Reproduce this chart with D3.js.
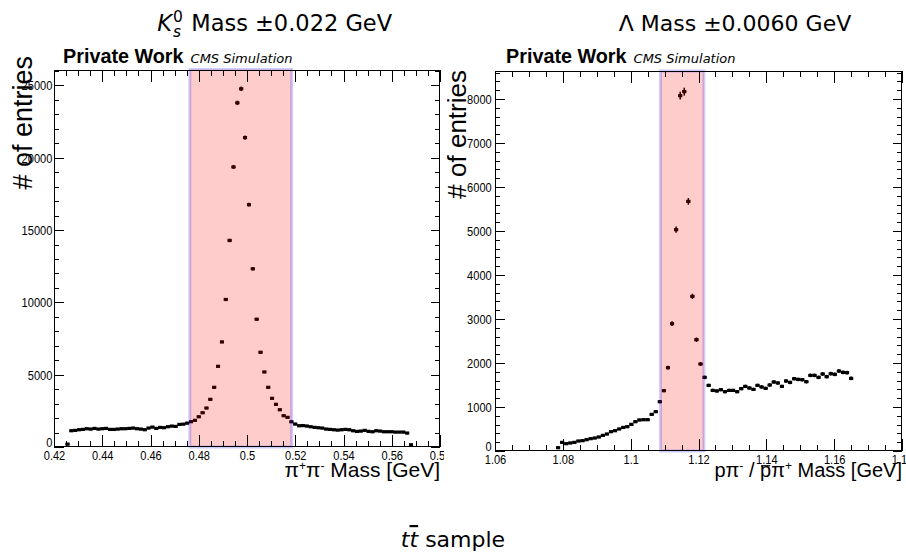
<!DOCTYPE html>
<html><head><meta charset="utf-8">
<script src="https://cdn.jsdelivr.net/npm/d3@7"></script>
<style>body{margin:0;background:#fff} svg{display:block}</style>
</head><body>
<svg id="c" width="906" height="556"></svg>
<script>
// ---------------- data ----------------
const k0Range = [0.42, 0.58];
const k0Counts = [
  0,0,0,200,1124,1147,1193,1216,1262,1240,
  1286,1240,1262,1286,1216,1216,1240,1262,1262,1286,
  1309,1262,1240,1193,1309,1378,1286,1355,1332,1401,
  1447,1424,1560,1580,1650,1750,1842,2091,2368,2694,
  3296,4127,5581,7264,10200,14280,19362,23794,24764,21391,
  16752,12320,8836,6551,5187,4127,3366,2950,2576,2161,
  2050,1745,1586,1468,1480,1450,1399,1357,1330,1309,
  1240,1219,1191,1170,1191,1219,1190,1122,1080,1101,
  1150,1080,1053,1122,1101,1053,1053,1053,1032,1032,
  1032,963,150,0,0,0,0,0,0,0
];
const k0Band = [0.4763, 0.5185];
const k0XTicks = [0.42,0.44,0.46,0.48,0.50,0.52,0.54,0.56,0.58];
const k0YTicks = [0,5000,10000,15000,20000,25000];
const k0YMax = 26100;

const lamRange = [1.06, 1.18];
const lamCounts = [
  0,0,0,0,0,0,0,0,0,0,
  0,0,0,0,0,75,196,166,182,196,
  227,234,257,280,295,318,355,386,439,461,
  500,536,552,605,666,705,711,711,832,893,
  1120,1371,1893,2893,5030,8076,8167,5673,3514,2530,
  1977,1673,1491,1377,1364,1393,1348,1377,1377,1348,
  1416,1468,1432,1400,1491,1455,1423,1500,1568,1546,
  1468,1591,1559,1643,1627,1620,1575,1718,1718,1673,
  1750,1689,1757,1741,1818,1787,1780,1650,0,0,
  0,0,0,0,0,0,0,0,0,0
];
const lamBand = [1.1088, 1.1216];
const lamXTicks = [1.06,1.08,1.10,1.12,1.14,1.16,1.18];
const lamYTicks = [0,1000,2000,3000,4000,5000,6000,7000,8000];
const lamYMax = 8636;

// ---------------- drawing ----------------
const svg = d3.select("#c");
const defs = svg.append("defs");
defs.append("clipPath").attr("id","clipL").append("rect").attr("x",0).attr("y",0).attr("width",444).attr("height",556);
defs.append("clipPath").attr("id","clipR").append("rect").attr("x",447).attr("y",0).attr("width",459).attr("height",556);

const fmt = d => String(+d.toFixed(2));
const TICKFONT = "'Liberation Sans', Arial, Helvetica, sans-serif";

function drawPanel(cfg){
  const g = svg.append("g").attr("clip-path", `url(#${cfg.clip})`);
  const x = d3.scaleLinear().domain(cfg.range).range([cfg.x0, cfg.x1]);
  const y = d3.scaleLinear().domain([0, cfg.yMax]).range([cfg.yB, cfg.yT]);
  const n = cfg.counts.length;
  const bw = (cfg.range[1]-cfg.range[0])/n;
  const pts = cfg.counts.map((c,i)=>({lo:cfg.range[0]+i*bw, hi:cfg.range[0]+(i+1)*bw, mid:cfg.range[0]+(i+0.5)*bw, c:c})).filter(d=>d.c>0);

  const dg = g.append("g");
  dg.selectAll("line.h").data(pts).join("line").attr("class","h")
    .attr("x1",d=>x(d.lo)).attr("x2",d=>x(d.hi)).attr("y1",d=>y(d.c)).attr("y2",d=>y(d.c))
    .attr("stroke","#000").attr("stroke-width",2.2);
  dg.selectAll("line.v").data(pts).join("line").attr("class","v")
    .attr("x1",d=>x(d.mid)).attr("x2",d=>x(d.mid))
    .attr("y1",d=>y(d.c-Math.sqrt(d.c))).attr("y2",d=>y(d.c+Math.sqrt(d.c)))
    .attr("stroke","#000").attr("stroke-width",1.5);
  dg.selectAll("rect").data(pts).join("rect")
    .attr("x",d=>x(d.mid)-2).attr("y",d=>y(d.c)-1.6).attr("width",4).attr("height",3.2)
    .attr("fill","#000");

  g.append("rect").attr("x",x(cfg.band[0])).attr("y",cfg.yT).attr("width",x(cfg.band[1])-x(cfg.band[0])).attr("height",cfg.yB-cfg.yT)
    .attr("fill","rgba(255,0,0,0.2)").attr("stroke","rgba(0,0,255,0.2)").attr("stroke-width",3);

  const xMinor = d3.range(Math.round((cfg.range[1]-cfg.range[0])/cfg.xMinorStep)+1).map(i=>cfg.range[0]+i*cfg.xMinorStep);
  const yMinor = d3.range(Math.floor(cfg.yMax/cfg.yMinorStep)+1).map(i=>i*cfg.yMinorStep);

  const ax = g.append("g").attr("shape-rendering","crispEdges");
  ax.append("g").attr("transform",`translate(0,${cfg.yB})`).call(d3.axisBottom(x).tickValues(xMinor).tickSize(-6).tickFormat(""));
  const bx = ax.append("g").attr("transform",`translate(0,${cfg.yB})`).call(d3.axisBottom(x).tickValues(cfg.xTicks).tickSize(-12).tickPadding(3).tickFormat(fmt));
  ax.append("g").attr("transform",`translate(0,${cfg.yT})`).call(d3.axisTop(x).tickValues(xMinor).tickSize(-6).tickFormat(""));
  ax.append("g").attr("transform",`translate(0,${cfg.yT})`).call(d3.axisTop(x).tickValues(cfg.xTicks).tickSize(-12).tickFormat(""));
  ax.append("g").attr("transform",`translate(${cfg.x0},0)`).call(d3.axisLeft(y).tickValues(yMinor).tickSize(-5).tickFormat(""));
  const ly = ax.append("g").attr("transform",`translate(${cfg.x0},0)`).call(d3.axisLeft(y).tickValues(cfg.yTicks).tickSize(-9.5).tickPadding(cfg.yPad).tickFormat(d3.format("d")));
  ax.append("g").attr("transform",`translate(${cfg.x1},0)`).call(d3.axisRight(y).tickValues(yMinor).tickSize(-5).tickFormat(""));
  ax.append("g").attr("transform",`translate(${cfg.x1},0)`).call(d3.axisRight(y).tickValues(cfg.yTicks).tickSize(-9.5).tickFormat(""));
  ax.selectAll(".domain").remove();
  ax.selectAll(".tick line").attr("stroke","#000");
  ax.selectAll("text").attr("font-family",TICKFONT).attr("font-size",13.5).attr("fill","#000");
  bx.selectAll("text").attr("transform","scale(0.82,1)");
  ly.selectAll("text").attr("transform","scale(0.82,1)");
  ly.selectAll(".tick").filter(d=>d===0).select("text").attr("dy","-0.05em");

  g.append("rect").attr("x",cfg.x0+0.5).attr("y",cfg.yT+0.5).attr("width",cfg.x1-cfg.x0-1).attr("height",cfg.yB-cfg.yT-1)
    .attr("fill","none").attr("stroke","#000").attr("stroke-width",1).attr("shape-rendering","crispEdges");

  const xt = g.append("text").attr("x",cfg.x1).attr("y",477).attr("text-anchor","end")
    .attr("font-family",TICKFONT).attr("font-size",cfg.xTitleSize).attr("fill","#000");
  cfg.xTitle(xt, g);
  g.append("text").attr("transform",`translate(${cfg.yTitleX},${cfg.yTitleTop}) rotate(-90)`).attr("text-anchor","end")
    .attr("font-family",TICKFONT).attr("font-size",cfg.yTitleSize).attr("fill","#000").text("# of entries");

  const lab = g.append("text").attr("x",cfg.labX).attr("y",63).attr("fill","#000");
  lab.append("tspan").attr("font-family",TICKFONT).attr("font-weight","bold").attr("font-size",19.8).text("Private Work");
  lab.append("tspan").attr("font-family","'DejaVu Sans', sans-serif").attr("font-style","italic").attr("font-size",13).attr("dx",7).text("CMS Simulation");
}

drawPanel({clip:"clipL", range:k0Range, counts:k0Counts, band:k0Band, xTicks:k0XTicks, yTicks:k0YTicks, yMax:k0YMax,
  x0:54, x1:440, yT:69.5, yB:447, xMinorStep:0.005, yMinorStep:1000, yPad:2, yTitleX:32, yTitleTop:56, yTitleSize:27, labX:63, xTitleSize:21,
  xTitle: t => {
    t.append("tspan").text("π");
    t.append("tspan").attr("font-size",12).attr("baseline-shift","55%").text("+");
    t.append("tspan").text("π");
    t.append("tspan").attr("font-size",12).attr("baseline-shift","55%").text("-");
    t.append("tspan").text(" Mass [GeV]");
  }});
drawPanel({clip:"clipR", range:lamRange, counts:lamCounts, band:lamBand, xTicks:lamXTicks, yTicks:lamYTicks, yMax:lamYMax,
  x0:495, x1:902, yT:71, yB:451, xMinorStep:0.005, yMinorStep:200, yPad:4, yTitleX:466, yTitleTop:70, yTitleSize:26, labX:506, xTitleSize:20,
  xTitle: (t, g) => {
    t.append("tspan").text("pπ");
    t.append("tspan").attr("font-size",12).attr("baseline-shift","55%").text("-");
    t.append("tspan").text(" / ");
    t.append("tspan").text("p");
    t.append("tspan").text("π");
    t.append("tspan").attr("font-size",12).attr("baseline-shift","55%").text("+");
    t.append("tspan").text(" Mass [GeV]");
    // bar over the anti-proton p
    const e = t.node().getExtentOfChar(6);
    const yb = +t.attr("y") - 20*0.56;
    g.append("line").attr("x1",e.x+1).attr("x2",e.x+e.width-1).attr("y1",yb).attr("y2",yb)
      .attr("stroke","#000").attr("stroke-width",1.3);
  }});

// matplotlib titles
const MPL = "'DejaVu Sans', sans-serif";
function mathTitle(cx, build){
  const g = svg.append("g");
  build(g);
  const bb = g.node().getBBox();
  g.attr("transform",`translate(${cx - bb.x - bb.width/2},0)`);
}
mathTitle(275, g => {
  const K = g.append("text").attr("x",0).attr("y",31).attr("font-family",MPL).attr("font-size",22.5).attr("font-style","italic").text("K");
  const wK = K.node().getComputedTextLength();
  g.append("text").attr("x",wK+1).attr("y",21.5).attr("font-family",MPL).attr("font-size",15.5).text("0");
  g.append("text").attr("x",wK+1).attr("y",37).attr("font-family",MPL).attr("font-size",15.5).attr("font-style","italic").text("s");
  g.append("text").attr("x",wK+12).attr("y",31).attr("font-family",MPL).attr("font-size",22.5).attr("xml:space","preserve").text(" Mass ±0.022 GeV");
});
mathTitle(735, g => {
  g.append("text").attr("x",0).attr("y",31).attr("font-family",MPL).attr("font-size",22).text("Λ Mass ±0.0060 GeV");
});
mathTitle(453, g => {
  const t = g.append("text").attr("x",0).attr("y",547).attr("font-family",MPL).attr("font-size",22);
  t.append("tspan").attr("font-style","italic").text("t");
  t.append("tspan").attr("font-style","italic").attr("text-decoration","overline").text("t");
  t.append("tspan").attr("xml:space","preserve").text(" sample");
});
</script>
</body></html>
